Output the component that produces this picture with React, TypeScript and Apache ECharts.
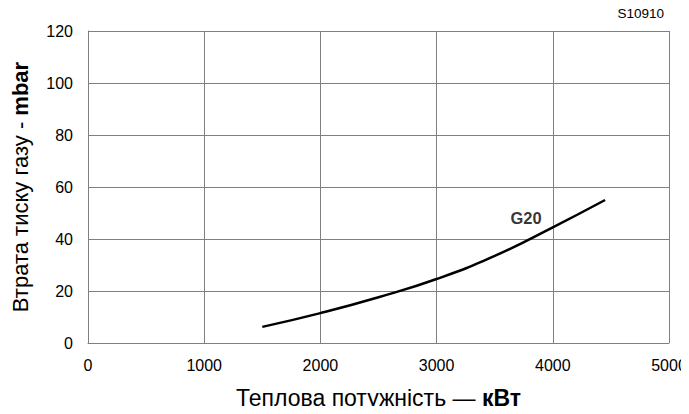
import React, { useEffect, useRef } from "react";
import * as echarts from "echarts";

const powerKW = [1500, 2000, 2500, 3000, 3500, 4000, 4450];
const pressureMbar = [6.2, 11.5, 17.6, 24.6, 33.5, 44.5, 55];
const seriesName = "G20";
const labelPoint = [3770, 48];
const xTicks = [0, 1000, 2000, 3000, 4000, 5000];
const yTicks = [0, 20, 40, 60, 80, 100, 120];
const code = "S10910";

const FONT = "Liberation Sans, Arial, sans-serif";

export default function App() {
  const ref = useRef<HTMLDivElement>(null);
  useEffect(() => {
    if (!ref.current) return;
    const chart = echarts.init(ref.current, undefined, { renderer: "svg" });
    const grid = "#808080";
    chart.setOption({
      animation: false,
      backgroundColor: "#ffffff",
      textStyle: { fontFamily: FONT },
      grid: {
        left: 88,
        right: 20,
        top: 31,
        bottom: 71,
        containLabel: false,
        outerBoundsMode: "none",
      },
      graphic: [
        {
          type: "text",
          right: 25,
          top: 6,
          style: { text: code, fontSize: 13.5, fill: "#000", fontFamily: FONT },
        },
      ],
      xAxis: {
        type: "value",
        min: xTicks[0],
        max: xTicks[xTicks.length - 1],
        interval: 1000,
        axisLine: { show: true, lineStyle: { color: grid, width: 1 } },
        axisTick: { show: false },
        splitLine: { show: true, lineStyle: { color: grid, width: 1 } },
        axisLabel: {
          color: "#000",
          fontSize: 16,
          margin: 14,
          fontFamily: FONT,
          formatter: (v: number) => String(v),
        },
        name: "{n|Теплова потужність — }{b|кВт}",
        nameLocation: "middle",
        nameGap: 43,
        nameTextStyle: {
          rich: {
            n: { fontSize: 23, color: "#000", fontFamily: FONT },
            b: { fontSize: 23, color: "#000", fontWeight: "bold", fontFamily: FONT },
          },
        },
      },
      yAxis: {
        type: "value",
        min: yTicks[0],
        max: yTicks[yTicks.length - 1],
        interval: 20,
        axisLine: { show: true, lineStyle: { color: grid, width: 1 } },
        axisTick: { show: false },
        splitLine: { show: true, lineStyle: { color: grid, width: 1 } },
        axisLabel: {
          color: "#000",
          fontSize: 16,
          margin: 15,
          fontFamily: FONT,
          formatter: (v: number) => String(v),
        },
        name: "{n|Втрата тиску газу - }{b|mbar}",
        nameLocation: "middle",
        nameGap: 57,
        nameTextStyle: {
          rich: {
            n: { fontSize: 22, color: "#000", fontFamily: FONT },
            b: { fontSize: 22, color: "#000", fontWeight: "bold", fontFamily: FONT },
          },
        },
      },
      series: [
        {
          name: seriesName,
          type: "line",
          smooth: 0.5,
          showSymbol: false,
          symbol: "none",
          data: powerKW.map((x, i) => [x, pressureMbar[i]]),
          lineStyle: { color: "#000", width: 2.5 },
        },
        {
          type: "scatter",
          symbolSize: 0,
          data: [labelPoint],
          label: {
            show: true,
            position: "inside",
            formatter: seriesName,
            fontSize: 16.5,
            fontWeight: "bold",
            color: "#000",
            fontFamily: FONT,
          },
        },
      ],
    });
    return () => chart.dispose();
  }, []);
  return <div ref={ref} style={{ width: 689, height: 414, margin: -8 }} />;
}
